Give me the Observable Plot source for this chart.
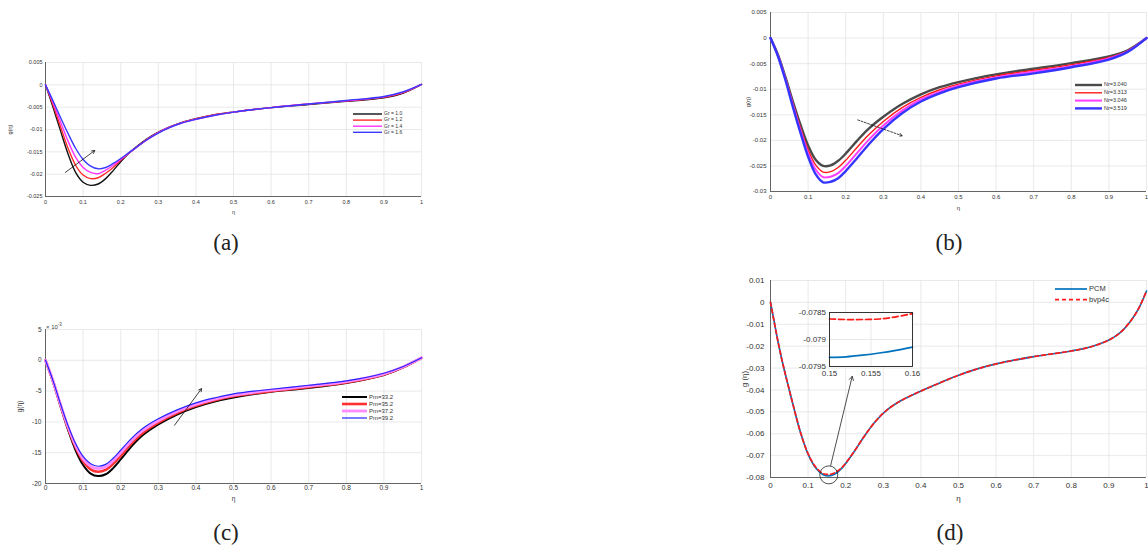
<!DOCTYPE html>
<html><head><meta charset="utf-8">
<script src="https://cdn.jsdelivr.net/npm/d3@7"></script>
<script src="https://cdn.jsdelivr.net/npm/@observablehq/plot@0.6"></script>
<style>
body{margin:0;background:#fff;}
#fig{position:relative;width:1148px;height:550px;overflow:hidden;background:#fff;font-family:"Liberation Sans",Arial,sans-serif;}
.p{position:absolute;}
.cap{position:absolute;font-family:"Liberation Serif","DejaVu Serif",serif;font-size:23px;color:#222;transform:translate(-50%,-50%);white-space:nowrap;}
.note{position:absolute;font-size:6px;color:#444;white-space:nowrap;}
</style></head><body><div id="fig"></div>
<script>
// ---------- Panel (a) ----------
const aX = [0, 0.02, 0.04, 0.06, 0.08, 0.10, 0.12, 0.14, 0.16, 0.18, 0.20, 0.22, 0.24, 0.27, 0.30, 0.33, 0.36, 0.40, 0.45, 0.50, 0.60, 0.70, 0.80, 0.90, 0.95, 1.00];
const aS1 = [0, -0.0050, -0.0103, -0.0155, -0.0196, -0.0218, -0.0225, -0.0222, -0.0210, -0.0192, -0.0172, -0.0155, -0.0140, -0.0121, -0.0106, -0.0094, -0.0085, -0.0076, -0.0067, -0.0061, -0.0051, -0.0044, -0.0037, -0.0029, -0.0019, 0.0001];
const aS2 = [0, -0.0045, -0.0094, -0.0142, -0.0180, -0.0202, -0.0210, -0.0208, -0.0198, -0.0185, -0.0169, -0.0154, -0.0141, -0.0122, -0.0107, -0.0095, -0.0085, -0.0076, -0.0067, -0.0061, -0.0051, -0.0043, -0.0036, -0.0028, -0.0018, 0.0001];
const aS3 = [0, -0.0040, -0.0083, -0.0126, -0.0162, -0.0185, -0.0196, -0.0199, -0.0191, -0.0180, -0.0167, -0.0154, -0.0141, -0.0123, -0.0107, -0.0095, -0.0086, -0.0077, -0.0068, -0.0061, -0.0051, -0.0043, -0.0036, -0.0027, -0.0017, 0.0001];
const aS4 = [0, -0.0036, -0.0073, -0.0109, -0.0142, -0.0167, -0.0182, -0.0188, -0.0185, -0.0176, -0.0165, -0.0153, -0.0141, -0.0123, -0.0108, -0.0096, -0.0086, -0.0077, -0.0068, -0.0061, -0.0051, -0.0043, -0.0035, -0.0026, -0.0016, 0.0001];
const aNames = ["Gr = 1.0", "Gr = 1.2", "Gr = 1.4", "Gr = 1.6"];
const aYTicks = [0.005, 0, -0.005, -0.01, -0.015, -0.02, -0.025];
const aYLabels = ["0.005", "0", "-0.005", "-0.01", "-0.015", "-0.02", "-0.025"];
const aArrow = [{x1: 0.053, y1: -0.0196, x2: 0.131, y2: -0.0147}];

// ---------- Panel (b) ----------
const bX = [0, 0.02, 0.04, 0.06, 0.08, 0.10, 0.12, 0.14, 0.16, 0.18, 0.20, 0.23, 0.26, 0.30, 0.35, 0.40, 0.45, 0.50, 0.60, 0.70, 0.80, 0.90, 0.95, 1.00];
const bS1 = [0, -0.0033, -0.0077, -0.0125, -0.0170, -0.0210, -0.0238, -0.0250, -0.0249, -0.0240, -0.0226, -0.0201, -0.0178, -0.0154, -0.0129, -0.0110, -0.0096, -0.0086, -0.0071, -0.0060, -0.0049, -0.0036, -0.0024, 0];
const bS2 = [0, -0.0034, -0.0079, -0.0129, -0.0176, -0.0218, -0.0248, -0.0262, -0.0261, -0.0253, -0.0239, -0.0214, -0.0190, -0.0163, -0.0136, -0.0116, -0.0101, -0.0090, -0.0074, -0.0063, -0.0052, -0.0038, -0.0025, 0];
const bS3 = [0, -0.0035, -0.0081, -0.0132, -0.0181, -0.0225, -0.0257, -0.0272, -0.0271, -0.0264, -0.0250, -0.0225, -0.0200, -0.0171, -0.0142, -0.0120, -0.0105, -0.0093, -0.0077, -0.0066, -0.0055, -0.0040, -0.0026, 0];
const bS4 = [0, -0.0036, -0.0083, -0.0136, -0.0186, -0.0232, -0.0266, -0.0282, -0.0281, -0.0274, -0.0260, -0.0235, -0.0209, -0.0178, -0.0147, -0.0124, -0.0108, -0.0096, -0.0079, -0.0069, -0.0057, -0.0042, -0.0027, 0];
const bNames = ["Nr=3.040", "Nr=3.313", "Nr=3.046", "Nr=3.519"];
const bYTicks = [0.005, 0, -0.005, -0.01, -0.015, -0.02, -0.025, -0.03];
const bYLabels = ["0.005", "0", "-0.005", "-0.01", "-0.015", "-0.02", "-0.025", "-0.03"];
const bArrow = [{x1: 0.232, y1: -0.0160, x2: 0.350, y2: -0.0191}];

// ---------- Panel (c) (values x 10^-3) ----------
const cX = [0, 0.02, 0.04, 0.06, 0.08, 0.10, 0.12, 0.14, 0.16, 0.18, 0.20, 0.23, 0.26, 0.30, 0.35, 0.40, 0.45, 0.50, 0.60, 0.70, 0.80, 0.90, 0.95, 1.00];
const cS1 = [0, -3.5, -7.5, -11.3, -14.6, -17.0, -18.4, -18.8, -18.5, -17.5, -16.1, -13.9, -12.1, -10.4, -8.8, -7.6, -6.7, -6.05, -5.1, -4.5, -3.7, -2.4, -1.2, 0.4];
const cS2 = [0, -3.4, -7.3, -11.0, -14.1, -16.4, -17.7, -18.1, -17.8, -16.8, -15.5, -13.4, -11.7, -10.1, -8.55, -7.4, -6.5, -5.85, -5.0, -4.35, -3.6, -2.3, -1.15, 0.4];
const cS3 = [0, -3.35, -7.2, -10.8, -13.8, -16.0, -17.2, -17.6, -17.3, -16.3, -15.0, -13.0, -11.35, -9.8, -8.3, -7.15, -6.3, -5.65, -4.85, -4.2, -3.45, -2.2, -1.1, 0.4];
const cS4 = [0, -3.3, -7.1, -10.6, -13.5, -15.6, -16.8, -17.2, -16.9, -15.9, -14.6, -12.6, -11.0, -9.5, -8.05, -6.9, -6.1, -5.45, -4.7, -4.05, -3.35, -2.1, -1.05, 0.4];
const cNames = ["Pm=33.2", "Pm=35.2", "Pm=37.2", "Pm=39.2"];
const cYTicks = [5, 0, -5, -10, -15, -20];
const cYLabels = ["5", "0", "-5", "-10", "-15", "-20"];
const cArrow = [{x1: 0.343, y1: -10.55, x2: 0.415, y2: -4.6}];

// ---------- Panel (d) ----------
const dX = [0, 0.01, 0.02, 0.03, 0.04, 0.05, 0.06, 0.08, 0.10, 0.12, 0.14, 0.155, 0.17, 0.19, 0.22, 0.25, 0.28, 0.31, 0.35, 0.40, 0.45, 0.50, 0.55, 0.60, 0.70, 0.80, 0.85, 0.90, 0.93, 0.96, 0.98, 1.00];
const dPCM = [0, -0.0090, -0.0180, -0.0260, -0.0332, -0.0400, -0.0468, -0.0595, -0.0693, -0.0755, -0.0787, -0.0793, -0.0785, -0.0757, -0.0688, -0.0610, -0.0542, -0.0491, -0.0446, -0.0405, -0.0368, -0.0333, -0.0304, -0.0281, -0.0248, -0.0222, -0.0204, -0.0172, -0.0138, -0.0080, -0.0025, 0.0052];
const dBVP = [0, -0.0090, -0.0180, -0.0260, -0.0332, -0.0400, -0.0468, -0.0595, -0.0692, -0.0752, -0.0782, -0.0786, -0.0779, -0.0754, -0.0687, -0.0610, -0.0542, -0.0491, -0.0446, -0.0405, -0.0368, -0.0333, -0.0304, -0.0281, -0.0248, -0.0222, -0.0204, -0.0172, -0.0138, -0.0080, -0.0025, 0.0052];
const dNames = ["PCM", "bvp4c"];
const dYTicks = [0.01, 0, -0.01, -0.02, -0.03, -0.04, -0.05, -0.06, -0.07, -0.08];
const dYLabels = ["0.01", "0", "-0.01", "-0.02", "-0.03", "-0.04", "-0.05", "-0.06", "-0.07", "-0.08"];
const dArrow = [{x1: 0.160, y1: -0.0745, x2: 0.2173, y2: -0.0338}];
const dCircle = [{x: 0.155, y: -0.0788}];
// inset
const iX = [0.150, 0.152, 0.154, 0.156, 0.158, 0.160];
const iPCM = [-0.07933, -0.07932, -0.07929, -0.07925, -0.07920, -0.07914];
const iBVP = [-0.07862, -0.07863, -0.07863, -0.07862, -0.07858, -0.07852];
const iXTicks = [0.15, 0.155, 0.16];
const iXLabels = ["0.15", "0.155", "0.16"];
const iYTicks = [-0.0785, -0.079, -0.0795];
const iYLabels = ["-0.0785", "-0.079", "-0.0795"];

// shared x ticks
const xTicks = [0, 0.1, 0.2, 0.3, 0.4, 0.5, 0.6, 0.7, 0.8, 0.9, 1];
const xLabels = ["0", "0.1", "0.2", "0.3", "0.4", "0.5", "0.6", "0.7", "0.8", "0.9", "1"];
const captions = ["(a)", "(b)", "(c)", "(d)"];

// ---------- helpers ----------
const FONT = '"Liberation Sans", Arial, sans-serif';
const fig = document.getElementById("fig");
const rows = (xs, ys) => xs.map((x, i) => ({x, y: ys[i]}));
const fmt = (ticks, labels) => { const m = new Map(ticks.map((t, i) => [t, labels[i]])); return d => m.get(d) ?? ""; };
function place(node, left, top) { node.classList.add("p"); node.style.left = left + "px"; node.style.top = top + "px"; fig.appendChild(node); }

function panel(o) {
  const marks = [
    Plot.gridX(xTicks, {stroke: "#e3e3e3", strokeOpacity: 1, strokeWidth: 0.8}),
    Plot.gridY(o.yTicks, {stroke: "#e3e3e3", strokeOpacity: 1, strokeWidth: 0.8}),
    Plot.axisX(xTicks, {tickSize: 0, tickPadding: o.xPad, tickFormat: fmt(xTicks, xLabels), fontSize: o.fs, label: "η", labelAnchor: "center", labelOffset: o.xOff, labelArrow: "none", fill: "#333"}),
    Plot.axisY(o.yTicks, {tickSize: 0, tickPadding: o.yPad, tickFormat: fmt(o.yTicks, o.yLabels), fontSize: o.fs, label: o.yLabel, labelAnchor: "center", labelOffset: o.yOff, labelArrow: "none", fill: "#333"}),
    Plot.ruleX([0], {stroke: "#555", strokeWidth: 0.9}),
    Plot.ruleY([o.yDomain[0]], {stroke: "#555", strokeWidth: 0.9}),
    ...o.series.map(s => Plot.line(rows(o.x, s.y), {x: "x", y: "y", stroke: s.color, strokeWidth: s.w, strokeDasharray: s.dash, curve: "catmull-rom"})),
    ...(o.extra || [])
  ];
  return Plot.plot({
    width: o.width, height: o.height,
    marginLeft: o.m[0], marginRight: o.m[1], marginTop: o.m[2], marginBottom: o.m[3],
    x: {domain: [0, 1]}, y: {domain: o.yDomain},
    style: {fontFamily: FONT, background: "transparent", overflow: "visible", color: "#333"},
    marks
  });
}

function legend(x0, y0, step, len, fs, items) {
  const svg = d3.create("svg").attr("width", len + 60).attr("height", step * items.length + 8)
    .style("overflow", "visible");
  items.forEach((it, i) => {
    const y = 4 + i * step;
    svg.append("line").attr("x1", 0).attr("x2", len).attr("y1", y).attr("y2", y)
      .attr("stroke", it.color).attr("stroke-width", it.w).attr("stroke-dasharray", it.dash || null);
    svg.append("text").attr("x", len + 2).attr("y", y).attr("dominant-baseline", "middle")
      .attr("font-size", fs).attr("font-family", FONT).attr("fill", "#333").text(it.name);
  });
  place(svg.node(), x0, y0 - 4);
}

// ---------- (a) ----------
const aSeries = [
  {y: aS1, color: "#111", w: 1.4, name: aNames[0]},
  {y: aS2, color: "#ff2a2a", w: 1.4, name: aNames[1]},
  {y: aS3, color: "#ff33ff", w: 1.4, name: aNames[2]},
  {y: aS4, color: "#3a3aff", w: 1.4, name: aNames[3]}
];
place(panel({
  width: 440, height: 165, m: [45, 19, 7, 24], x: aX, series: aSeries,
  yDomain: [-0.025, 0.005], yTicks: aYTicks, yLabels: aYLabels, yLabel: "g(η)",
  fs: 5.5, xPad: 3.5, yPad: 3, xOff: 17, yOff: 37,
  extra: [Plot.arrow(aArrow, {x1: "x1", y1: "y1", x2: "x2", y2: "y2", stroke: "#111", strokeWidth: 0.8, headLength: 6})]
}), 0, 55);
legend(353, 114.3, 6.1, 29, 5, aSeries);

// ---------- (b) ----------
const bSeries = [
  {y: bS1, color: "#4a4a4a", w: 2.4, name: bNames[0]},
  {y: bS2, color: "#ff1a1a", w: 1.4, name: bNames[1]},
  {y: bS3, color: "#ff3cff", w: 2.0, name: bNames[2]},
  {y: bS4, color: "#3535ff", w: 2.4, name: bNames[3]}
];
place(panel({
  width: 423, height: 215, m: [45, 2, 12, 24], x: bX, series: bSeries,
  yDomain: [-0.03, 0.005], yTicks: bYTicks, yLabels: bYLabels, yLabel: "g(η)",
  fs: 6, xPad: 3.5, yPad: 4, xOff: 18, yOff: 25,
  extra: [Plot.arrow(bArrow, {x1: "x1", y1: "y1", x2: "x2", y2: "y2", stroke: "#111", strokeWidth: 0.8, headLength: 6, strokeDasharray: "2,1.5"})]
}), 725, 0);
legend(1075, 85, 7.8, 27, 5.5, bSeries);

// ---------- (c) ----------
const cSeries = [
  {y: cS1, color: "#000", w: 2.0, name: cNames[0]},
  {y: cS2, color: "#ff3030", w: 2.6, name: cNames[1]},
  {y: cS3, color: "#ff8cff", w: 2.8, name: cNames[2]},
  {y: cS4, color: "#2424ff", w: 1.2, name: cNames[3]}
];
place(panel({
  width: 440, height: 190, m: [45, 19, 9, 27], x: cX, series: cSeries,
  yDomain: [-20, 5], yTicks: cYTicks, yLabels: cYLabels, yLabel: "g(η)",
  fs: 6.5, xPad: 2, yPad: 4, xOff: 17, yOff: 28,
  extra: [Plot.arrow(cArrow, {x1: "x1", y1: "y1", x2: "x2", y2: "y2", stroke: "#111", strokeWidth: 0.8, headLength: 6})]
}), 0, 320);
legend(342, 396.7, 7, 25, 6, cSeries);
const note = document.createElement("div");
note.className = "note"; note.innerHTML = "× 10<sup style='font-size:4.5px'>-3</sup>";
note.style.left = "46px"; note.style.top = "322px"; fig.appendChild(note);

// ---------- (d) ----------
const dSeries = [
  {y: dPCM, color: "#0072BD", w: 1.7, name: dNames[0]},
  {y: dBVP, color: "#ff1a1a", w: 1.7, dash: "4,3", name: dNames[1]}
];
place(panel({
  width: 423, height: 232, m: [45, 2, 10, 25], x: dX, series: dSeries,
  yDomain: [-0.08, 0.01], yTicks: dYTicks, yLabels: dYLabels, yLabel: "g (η)",
  fs: 8, xPad: 5, yPad: 6, xOff: 23, yOff: 29,
  extra: [
    Plot.dot(dCircle, {x: "x", y: "y", r: 9, stroke: "#222", strokeWidth: 0.8, fill: "none"}),
    Plot.arrow(dArrow, {x1: "x1", y1: "y1", x2: "x2", y2: "y2", stroke: "#222", strokeWidth: 0.8, headLength: 8})
  ]
}), 725, 270);
legend(1055, 289.3, 10.7, 32, 7.5, dSeries);

// inset
const inset = Plot.plot({
  width: 134, height: 80, marginLeft: 49, marginRight: 2, marginTop: 12, marginBottom: 14,
  x: {domain: [0.15, 0.16]}, y: {domain: [-0.0795, -0.0785]},
  style: {fontFamily: FONT, background: "transparent", overflow: "visible", color: "#333"},
  marks: [
    Plot.frame({fill: "white", stroke: "none"}),
    Plot.gridX(iXTicks, {stroke: "#e3e3e3", strokeOpacity: 1, strokeWidth: 0.8}),
    Plot.gridY(iYTicks, {stroke: "#e3e3e3", strokeOpacity: 1, strokeWidth: 0.8}),
    Plot.axisX(iXTicks, {tickSize: 0, tickPadding: 4, tickFormat: fmt(iXTicks, iXLabels), fontSize: 8, label: null, fill: "#333"}),
    Plot.axisY(iYTicks, {tickSize: 0, tickPadding: 3.5, tickFormat: fmt(iYTicks, iYLabels), fontSize: 8, label: null, fill: "#333"}),
    Plot.line(rows(iX, iPCM), {x: "x", y: "y", stroke: "#0072BD", strokeWidth: 1.7, curve: "catmull-rom"}),
    Plot.line(rows(iX, iBVP), {x: "x", y: "y", stroke: "#ff1a1a", strokeWidth: 1.7, strokeDasharray: "6,3", curve: "catmull-rom"}),
    Plot.frame({stroke: "#222", strokeWidth: 0.9})
  ]
});
place(inset, 780, 300);

// captions
[[226, 243], [949, 243], [226, 533], [950, 533]].forEach((p, i) => {
  const c = document.createElement("div");
  c.className = "cap"; c.textContent = captions[i];
  c.style.left = p[0] + "px"; c.style.top = p[1] + "px"; fig.appendChild(c);
});
</script></body></html>
